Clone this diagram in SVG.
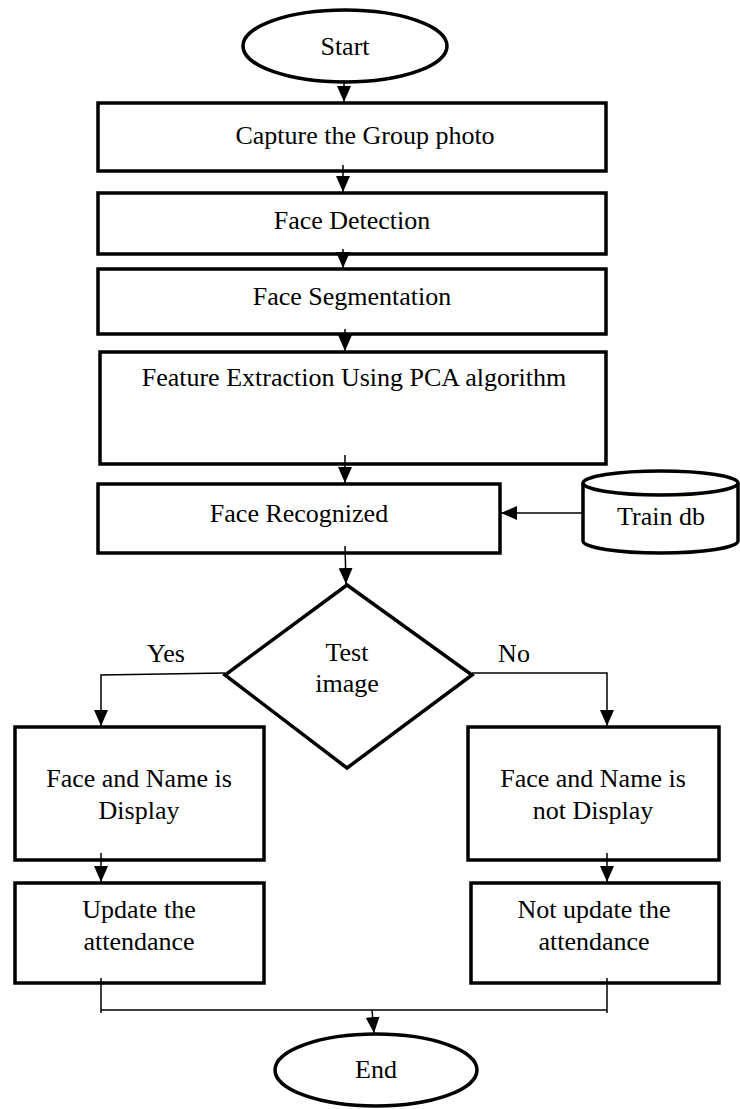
<svg xmlns="http://www.w3.org/2000/svg" width="740" height="1109" viewBox="0 0 740 1109">
<style>
.shape{fill:#fff;stroke:#000;stroke-width:3.5}
.conn{fill:none;stroke:#000;stroke-width:1.5}
.t{font-family:"Liberation Serif","Times New Roman",serif;font-size:26px;fill:#000;text-anchor:middle}
</style>
<defs>
<marker id="ah" viewBox="0 0 16 14" refX="16" refY="7" markerWidth="16" markerHeight="14" markerUnits="userSpaceOnUse" orient="auto">
<path d="M0,0 L16,7 L0,14 z" fill="#000"/>
</marker>
</defs>
<g id="start"><ellipse class="shape" cx="345" cy="46" rx="102" ry="36"/><text class="t" x="345" y="55">Start</text></g>
<g id="capture"><rect class="shape" x="98" y="103" width="508" height="68"/><text class="t" x="365" y="144">Capture the Group photo</text></g>
<g id="detect"><rect class="shape" x="98" y="193" width="508" height="61"/><text class="t" x="352" y="229">Face Detection</text></g>
<g id="segment"><rect class="shape" x="98" y="269" width="508" height="65"/><text class="t" x="352" y="305">Face Segmentation</text></g>
<g id="feature"><rect class="shape" x="100" y="352" width="506" height="112"/><text class="t" x="354" y="386">Feature Extraction Using PCA algorithm</text></g>
<g id="recognized"><rect class="shape" x="98" y="484" width="402" height="69"/><text class="t" x="299" y="522">Face Recognized</text></g>
<g id="traindb"><path class="shape" d="M583,483 L583,541 A77.5,12 0 0 0 738,541 L738,483 A77.5,12 0 0 0 583,483 Z"/><path class="shape" fill="none" d="M583,483 A77.5,12 0 0 0 738,483"/><text class="t" x="661" y="525">Train db</text></g>
<g id="test"><polygon class="shape" points="347,585 472,675 347,768 225,675"/><text class="t" x="347" y="661">Test</text><text class="t" x="347" y="692">image</text></g>
<g id="display"><rect class="shape" x="15" y="727" width="249" height="133"/><text class="t" x="139" y="787">Face and Name is</text><text class="t" x="139" y="819">Display</text></g>
<g id="notdisplay"><rect class="shape" x="468" y="727" width="251" height="133"/><text class="t" x="593" y="787">Face and Name is</text><text class="t" x="593" y="819">not Display</text></g>
<g id="update"><rect class="shape" x="15" y="883" width="249" height="100"/><text class="t" x="139" y="918">Update the</text><text class="t" x="139" y="950">attendance</text></g>
<g id="notupdate"><rect class="shape" x="471" y="883" width="248" height="100"/><text class="t" x="594" y="918">Not update the</text><text class="t" x="594" y="950">attendance</text></g>
<g id="end"><ellipse class="shape" cx="376" cy="1070" rx="101" ry="36"/><text class="t" x="376" y="1078">End</text></g>
<g id="connectors">
<line class="conn" x1="344" y1="80" x2="344" y2="102" marker-end="url(#ah)"/>
<line class="conn" x1="343" y1="165" x2="343" y2="192" marker-end="url(#ah)"/>
<line class="conn" x1="343" y1="249" x2="343" y2="268" marker-end="url(#ah)"/>
<line class="conn" x1="345" y1="329" x2="345" y2="351" marker-end="url(#ah)"/>
<line class="conn" x1="345" y1="455" x2="345" y2="483" marker-end="url(#ah)"/>
<line class="conn" x1="583" y1="513" x2="501" y2="513" marker-end="url(#ah)"/>
<line class="conn" x1="345" y1="546" x2="346" y2="584" marker-end="url(#ah)"/>
<polyline class="conn" points="225,673 101,675 101,726" marker-end="url(#ah)"/>
<polyline class="conn" points="472,673 607,673 607,726" marker-end="url(#ah)"/>
<line class="conn" x1="101" y1="853" x2="101" y2="882" marker-end="url(#ah)"/>
<line class="conn" x1="607" y1="853" x2="607" y2="882" marker-end="url(#ah)"/>
<polyline class="conn" points="101,978 101,1013"/>
<polyline class="conn" points="607,978 607,1013"/>
<line class="conn" x1="101" y1="1010" x2="607" y2="1010"/>
<line class="conn" x1="372" y1="1010" x2="374" y2="1033" marker-end="url(#ah)"/>
<text class="t" x="166" y="662">Yes</text>
<text class="t" x="514" y="662">No</text>
</g>
</svg>
